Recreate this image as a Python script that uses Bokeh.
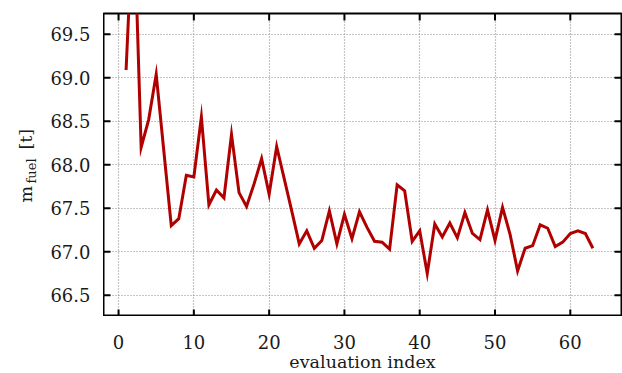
import math
from bokeh.plotting import figure
from bokeh.layouts import row, column
from bokeh.models import ColumnDataSource, FixedTicker, Range1d
from bokeh.core.properties import value
from bokeh.embed import file_html
from bokeh.resources import INLINE

# fuel mass per optimisation evaluation
evaluation_index = list(range(1, 64))
m_fuel = [
    69.09, 71.00, 68.20, 68.52, 69.04, 68.17, 67.30, 67.38, 67.88, 67.86,
    68.55, 67.54, 67.71, 67.62, 68.35, 67.68, 67.52, 67.78, 68.07, 67.66,
    68.21, 67.84, 67.47, 67.09, 67.24, 67.04, 67.13, 67.47, 67.09, 67.43,
    67.15, 67.46, 67.28, 67.12, 67.11, 67.03, 67.77, 67.70, 67.12, 67.24,
    66.75, 67.32, 67.17, 67.33, 67.16, 67.45, 67.21, 67.14, 67.48, 67.13,
    67.51, 67.20, 66.78, 67.04, 67.07, 67.31, 67.27, 67.06, 67.11, 67.21,
    67.24, 67.21, 67.04,
]
x_ticks = [0, 10, 20, 30, 40, 50, 60]
x_tick_labels = ["0", "10", "20", "30", "40", "50", "60"]
y_ticks = [66.5, 67.0, 67.5, 68.0, 68.5, 69.0, 69.5]
y_tick_labels = ["66.5", "67.0", "67.5", "68.0", "68.5", "69.0", "69.5"]
x_title = "evaluation index"

FONT = value("DejaVu Serif")
INK = "#1a1a1a"
W, H = 622, 373
LEFT, BOTTOM, TOP, RIGHT = 103, 57, 13, 1
TICK_PX = 7

xr = Range1d(-2, 66.8)
yr = Range1d(66.255, 69.74)


def bare(fig):
    fig.outline_line_color = None
    fig.background_fill_color = "white"
    fig.border_fill_color = "white"
    fig.grid.visible = False
    return fig


# ---- plotting area -------------------------------------------------------
PW, PH = W - LEFT, H - BOTTOM
p = figure(width=PW, height=PH, output_backend="svg", toolbar_location=None,
           x_range=xr, y_range=yr, x_axis_location=None, y_axis_location=None,
           min_border_left=0, min_border_right=RIGHT, min_border_top=TOP, min_border_bottom=0)
p.outline_line_color = "black"
p.outline_line_width = 2
p.background_fill_color = "white"
p.border_fill_color = "white"

p.xgrid.ticker = FixedTicker(ticks=x_ticks, minor_ticks=[])
p.ygrid.ticker = FixedTicker(ticks=y_ticks, minor_ticks=[])
for g in (p.xgrid, p.ygrid):
    g.grid_line_color = "#8c8c8c"
    g.grid_line_width = 1.2
    g.grid_line_dash = "1 2"

src = ColumnDataSource(data=dict(x=evaluation_index, y=m_fuel))
p.line("x", "y", source=src, line_color="#b00000", line_width=3, line_join="miter")

# inward tick marks on all four sides; tick length converted from pixels to data units
nx, ny = len(x_ticks), len(y_ticks)
dx = TICK_PX * (xr.end - xr.start) / (PW - RIGHT)
dy = TICK_PX * (yr.end - yr.start) / (PH - TOP)
tk = dict(line_color="black", line_width=2)
p.segment(x0=x_ticks, y0=[yr.start] * nx, x1=x_ticks, y1=[yr.start + dy] * nx, **tk)
p.segment(x0=x_ticks, y0=[yr.end] * nx, x1=x_ticks, y1=[yr.end - dy] * nx, **tk)
p.segment(x0=[xr.start] * ny, y0=y_ticks, x1=[xr.start + dx] * ny, y1=y_ticks, **tk)
p.segment(x0=[xr.end] * ny, y0=y_ticks, x1=[xr.end - dx] * ny, y1=y_ticks, **tk)

# ---- left strip: y tick labels and rotated axis title --------------------
ls = bare(figure(width=LEFT, height=PH, output_backend="svg", toolbar_location=None,
                 x_range=Range1d(0, LEFT), y_range=yr,
                 x_axis_location=None, y_axis_location=None,
                 min_border_left=0, min_border_right=0, min_border_top=TOP,
                 min_border_bottom=0))
ls.text(x=[90] * ny, y=y_ticks, text=y_tick_labels, text_font=FONT,
        text_font_size="18px", text_color=INK, text_align="right", text_baseline="middle")

y_mid = (yr.start + yr.end) / 2
ylab = ColumnDataSource(data=dict(
    text=["m", "fuel", "[t]"], x=[25, 31, 25], y=[y_mid] * 3,
    dy=[37.5, 18.5, -15.5], size=["17.5px", "13px", "17.5px"]))
ls.text("x", "y", text="text", source=ylab, y_offset="dy", angle=math.pi / 2,
        text_font=FONT, text_font_size="size", text_color=INK,
        text_baseline="alphabetic", text_align="left")

# ---- bottom strip: x tick labels and axis title --------------------------
bs = bare(figure(width=W, height=BOTTOM, output_backend="svg", toolbar_location=None,
                 x_range=xr, y_range=Range1d(0, BOTTOM),
                 x_axis_location=None, y_axis_location=None,
                 min_border_left=LEFT, min_border_right=RIGHT, min_border_top=0,
                 min_border_bottom=0))
bs.text(x=x_ticks, y=[32] * nx, text=x_tick_labels, text_font=FONT, text_font_size="18px",
        text_color=INK, text_align="center", text_baseline="middle")
bs.text(x=[(xr.start + xr.end) / 2], y=[12], text=[x_title], text_font=FONT,
        text_font_size="17.5px", text_color=INK, text_align="center", text_baseline="middle")

layout = column(row(ls, p, spacing=0), bs, spacing=0)
open("out.html", "w").write(file_html(layout, INLINE))
